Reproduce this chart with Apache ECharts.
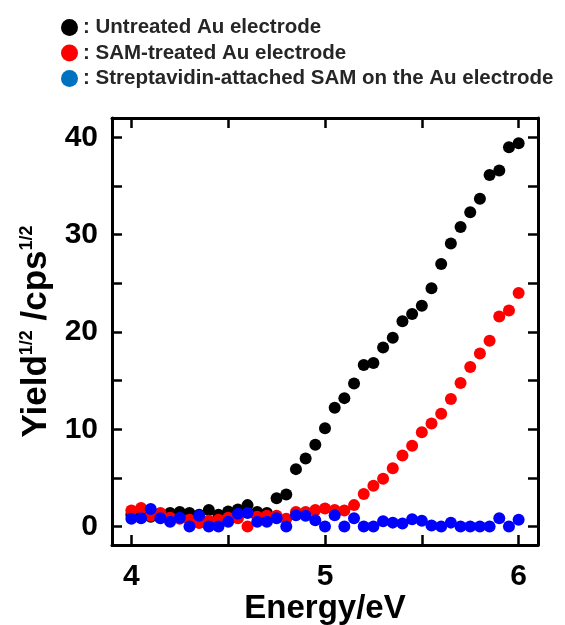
<!DOCTYPE html>
<html>
<head>
<meta charset="utf-8">
<script src="https://cdn.jsdelivr.net/npm/echarts@6/dist/echarts.min.js"></script>
<style>
html,body{margin:0;padding:0;background:#fff;}
#chart{width:565px;height:625px;}
</style>
</head>
<body>
<div id="chart"></div>
<script>
var energy = [4.00,4.05,4.10,4.15,4.20,4.25,4.30,4.35,4.40,4.45,4.50,4.55,4.60,4.65,4.70,4.75,4.80,4.85,4.90,4.95,
              5.00,5.05,5.10,5.15,5.20,5.25,5.30,5.35,5.40,5.45,5.50,5.55,5.60,5.65,5.70,5.75,5.80,5.85,5.90,5.95,6.00];
var untreated = [1.2,1.1,1.0,1.2,1.4,1.5,1.4,1.2,1.7,1.2,1.55,1.75,2.2,1.5,1.4,2.9,3.3,5.9,7.0,8.4,
                 10.1,12.2,13.2,14.7,16.6,16.8,18.4,19.4,21.1,21.85,22.7,24.5,27.0,29.1,30.8,32.3,33.7,36.15,36.6,39.0,39.4];
var samTreated = [1.65,1.9,1.1,1.4,0.9,0.8,0.7,0.35,0.6,0.7,0.9,0.85,0.0,1.0,1.1,1.1,0.8,1.5,1.5,1.7,
                  1.85,1.7,1.65,2.2,3.35,4.2,4.9,6.0,7.3,8.3,9.7,10.6,11.6,13.1,14.75,16.4,17.8,19.1,21.6,22.2,24.0];
var streptavidin = [0.8,0.85,1.8,0.85,0.5,0.9,0.0,1.1,0.0,0.0,0.5,1.3,1.4,0.5,0.5,0.85,0.0,1.15,1.1,0.65,
                    0.0,1.15,0.0,0.85,0.0,0.0,0.55,0.4,0.3,0.75,0.6,0.1,0.0,0.4,0.0,0.0,0.0,0.0,0.85,0.0,0.7];
var seriesNames = ['Untreated Au electrode','SAM-treated Au electrode','Streptavidin-attached SAM on the Au electrode'];
var xTicks = [4,4.5,5,5.5,6];
var xLabels = [4,5,6];
var yTicks = [0,5,10,15,20,25,30,35,40];
var yLabels = [0,10,20,30,40];

function pairs(ys){ return energy.map(function(x,i){ return [x, ys[i]]; }); }

var FONT = '"Liberation Sans", Arial, sans-serif';
var lineStyle = {color:'#000', width:3};
var tickStyle = {color:'#000', width:2.5};

var chart = echarts.init(document.getElementById('chart'), null, {renderer:'canvas'});
chart.setOption({
  animation:false,
  backgroundColor:'#fff',
  legend:{
    orient:'vertical', left:56, top:12,
    itemWidth:17, itemHeight:17, itemGap:4.5, icon:'circle',
    textStyle:{fontFamily:FONT, fontWeight:'bold', fontSize:20.5, color:'#262626'},
    formatter:function(n){ return ': ' + n; },
    data:[
      {name:seriesNames[0], itemStyle:{color:'#000000'}},
      {name:seriesNames[1], itemStyle:{color:'#FF0000'}},
      {name:seriesNames[2], itemStyle:{color:'#0070C0'}}
    ]
  },
  grid:{left:112, right:27, top:118, bottom:80, containLabel:false, outerBoundsMode:'none'},
  xAxis:[{
    type:'value', min:3.9, max:6.1, position:'bottom',
    axisLine:{show:true, onZero:false, lineStyle:lineStyle},
    axisTick:{show:true, inside:true, length:10, lineStyle:tickStyle, customValues:xTicks},
    axisLabel:{show:true, customValues:xLabels, fontFamily:FONT, fontWeight:'bold', fontSize:30, color:'#000', margin:17},
    splitLine:{show:false},
    name:'Energy/eV', nameLocation:'middle', nameGap:47, nameMoveOverlap:false,
    nameTextStyle:{fontFamily:FONT, fontWeight:'bold', fontSize:33, color:'#000'}
  },{
    type:'value', min:3.9, max:6.1, position:'top',
    axisLine:{show:true, onZero:false, lineStyle:lineStyle},
    axisTick:{show:true, inside:true, length:10, lineStyle:tickStyle, customValues:xTicks},
    axisLabel:{show:false}, splitLine:{show:false}
  }],
  yAxis:[{
    type:'value', min:-1.9, max:42, position:'left',
    axisLine:{show:true, onZero:false, lineStyle:lineStyle},
    axisTick:{show:true, inside:true, length:10, lineStyle:tickStyle, customValues:yTicks},
    axisLabel:{show:true, customValues:yLabels, fontFamily:FONT, fontWeight:'bold', fontSize:30, color:'#000', margin:14},
    splitLine:{show:false},
    name:'{m|Yield}{s|1/2}{m| /cps}{s|1/2}', nameLocation:'middle', nameGap:58, nameRotate:90, nameMoveOverlap:false,
    nameTextStyle:{
      fontFamily:FONT, fontWeight:'bold', fontSize:35, color:'#000',
      rich:{
        m:{fontFamily:FONT, fontWeight:'bold', fontSize:35, color:'#000', lineHeight:36},
        s:{fontFamily:FONT, fontWeight:'bold', fontSize:18, color:'#000', lineHeight:30, verticalAlign:'top'}
      }
    }
  },{
    type:'value', min:-1.9, max:42, position:'right',
    axisLine:{show:true, onZero:false, lineStyle:lineStyle},
    axisTick:{show:true, inside:true, length:10, lineStyle:tickStyle, customValues:yTicks},
    axisLabel:{show:false}, splitLine:{show:false}
  }],
  series:[
    {name:seriesNames[0], type:'scatter', xAxisIndex:0, yAxisIndex:0, symbol:'circle', symbolSize:12,
     itemStyle:{color:'#000000', opacity:1}, data:pairs(untreated)},
    {name:seriesNames[1], type:'scatter', xAxisIndex:0, yAxisIndex:0, symbol:'circle', symbolSize:12,
     itemStyle:{color:'#FF0000', opacity:1}, data:pairs(samTreated)},
    {name:seriesNames[2], type:'scatter', xAxisIndex:0, yAxisIndex:0, symbol:'circle', symbolSize:12,
     itemStyle:{color:'#0000FF', opacity:1}, data:pairs(streptavidin)}
  ]
});
</script>
</body>
</html>
